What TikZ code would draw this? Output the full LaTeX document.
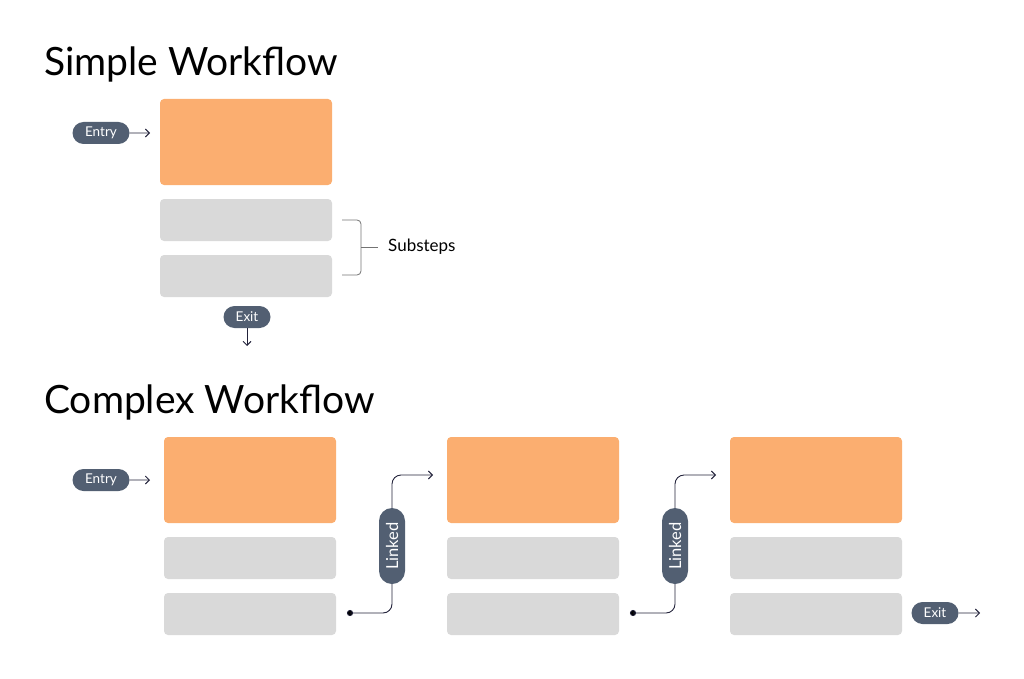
\documentclass[tikz,border=0pt]{standalone}
\usepackage{fontspec}
\setmainfont{Lato}
\usetikzlibrary{arrows.meta,shapes.misc}
\definecolor{stepor}{HTML}{FBAE70}
\definecolor{subgr}{HTML}{D9D9D9}
\definecolor{pillbl}{HTML}{525F72}
\definecolor{wire}{HTML}{22223A}
\begin{document}
\begin{tikzpicture}[x=1pt,y=-1pt,
    mainstep/.style={fill=stepor,rounded corners=4pt,minimum width=172pt,minimum height=86pt,inner sep=0pt},
    substep/.style={fill=subgr,rounded corners=4pt,minimum width=172pt,minimum height=42pt,inner sep=0pt},
    pill/.style={rounded rectangle,fill=pillbl,text=white,inner sep=0pt,font=\fontsize{13.5}{13.5}\selectfont},
    wire/.style={draw=wire,line width=0.9pt},
    tip/.style={wire,-{Straight Barb[length=4pt,width=8pt]}},
    title/.style={anchor=base west,inner sep=0pt,font=\fontsize{39}{39}\selectfont}]
    \useasboundingbox (0,0) rectangle (1024,679);
    % simple workflow
    \node[title] (t1) at (44,76) {Simple Workflow};
    \node[mainstep] (m) at (246,142) {};
    \node[substep] (s1) at (246,220) {};
    \node[substep] (s2) at (246,276) {};
    \node[pill,minimum width=57pt,minimum height=22pt] (en) at (101,133) {Entry};
    \coordinate (ena) at (150,133);
    \draw[tip] (en) -- (ena);
    \node[pill,minimum width=47pt,minimum height=22pt] (ex) at (247,317) {Exit};
    \coordinate (exa) at (247,346);
    \draw[tip] (ex) -- (exa);
    \node[anchor=west,inner sep=0pt,font=\fontsize{17}{17}\selectfont] (sub) at (388,247) {Substeps};
    \coordinate (b1) at (342,220);
    \coordinate (b2) at (342,275);
    \coordinate (bm) at (361,247);
    \draw[draw=black!55,line width=0.8pt,rounded corners=4pt] (b1) -| (bm) |- (b2);
    \draw[draw=black!55,line width=0.8pt] (bm) -- (sub.west -| 378,0);
    % complex workflow
    \node[title] (t2) at (44,413) {Complex Workflow};
    \foreach \i/\x in {1/250,2/533,3/816} {
        \node[mainstep] (m\i) at (\x,480) {};
        \node[substep] (a\i) at (\x,558) {};
        \node[substep] (b\i) at (\x,614) {};
    }
    \node[pill,minimum width=57pt,minimum height=22pt] (en2) at (101,480) {Entry};
    \coordinate (en2a) at (150,480);
    \draw[tip] (en2) -- (en2a);
    \node[pill,minimum width=47pt,minimum height=22pt] (ex2) at (935,613) {Exit};
    \coordinate (ex2a) at (980,613);
    \draw[tip] (ex2) -- (ex2a);
    % links
    \foreach \i/\x in {1/392,2/675} {
        \coordinate (p\i) at (\x-42,613);
        \coordinate (q\i) at (\x+41,475);
        \node[pill,rotate=90,minimum width=76pt,minimum height=26pt,font=\fontsize{16.5}{16.5}\selectfont] (l\i) at (\x,546) {Linked};
        \fill[wire] (p\i) circle (2.6pt);
        \draw[wire,rounded corners=9pt] (p\i) -| (l\i.west);
        \draw[tip,rounded corners=9pt] (l\i.east) |- (q\i);
    }
\end{tikzpicture}
\end{document}
